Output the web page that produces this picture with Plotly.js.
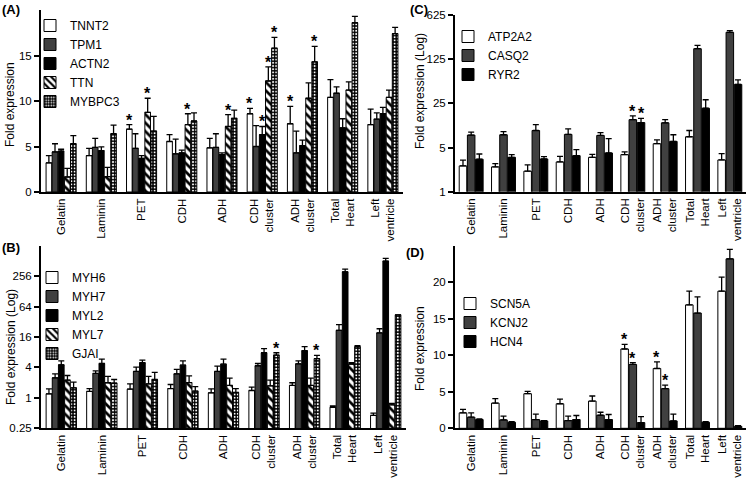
<!DOCTYPE html>
<html>
<head>
<meta charset="utf-8">
<script src="https://cdn.plot.ly/plotly-3.0.1.min.js"></script>
<style>html,body{margin:0;padding:0;background:#fff;}#chart{width:746px;height:478px;}</style>
</head>
<body>
<div id="chart"></div>
<script>
// ---------- DATA ----------
const categories = ['Gelatin','Laminin','PET','CDH','ADH','CDH<br>cluster','ADH<br>cluster','Total<br>Heart','Left<br>ventricle'];

// Panel A (linear)
const TNNT2      = [3.2, 4.0, 6.9, 5.55, 4.85, 8.6, 7.5, 10.4, 7.4];
const TNNT2_err  = [0.8, 0.8, 0.5, 0.75, 1.05, 0.6, 1.9, 1.95, 1.7];
const TNNT2_sig  = [0,0,1,0,0,1,1,0,0];
const TPM1       = [4.4, 4.9, 4.8, 4.2, 4.9, 5.0, 4.3, 10.85, 8.0];
const TPM1_err   = [0.9, 1.0, 1.6, 1.6, 1.5, 2.3, 2.4, 0.7, 0.7];
const TPM1_sig   = [0,0,0,0,0,0,0,0,0];
const ACTN2      = [4.5, 4.55, 3.7, 4.3, 4.1, 6.3, 5.1, 7.05, 8.6];
const ACTN2_err  = [0.2, 0.4, 0.3, 0.3, 0.2, 0.9, 0.6, 1.0, 0.7];
const ACTN2_sig  = [0,0,0,0,0,1,0,0,0];
const TTN        = [1.65, 1.7, 8.75, 7.4, 7.2, 12.2, 10.3, 11.2, 10.4];
const TTN_err    = [0.95, 1.0, 1.55, 1.2, 1.3, 1.55, 1.7, 0.9, 0.8];
const TTN_sig    = [0,0,1,1,1,1,0,0,0];
const MYBPC3     = [5.3, 6.4, 6.7, 7.8, 8.1, 15.8, 14.3, 18.6, 17.4];
const MYBPC3_err = [0.9, 0.95, 1.6, 0.9, 0.9, 1.2, 1.7, 0.7, 0.7];
const MYBPC3_sig = [0,0,0,0,0,1,1,0,0];

// Panel B (log)
const MYH6      = [1.2, 1.34, 1.49, 1.53, 1.26, 1.4, 1.76, 0.65, 0.45];
const MYH6_err  = [0.31, 0.19, 0.4, 0.31, 0.25, 0.23, 0.23, 0.04, 0.05];
const MYH6_sig  = [0,0,0,0,0,0,0,0,0];
const MYH7      = [2.49, 3.04, 3.33, 2.99, 3.33, 4.32, 4.72, 21.7, 19.3];
const MYH7_err  = [0.5, 0.39, 0.73, 0.66, 0.91, 0.47, 0.68, 6.5, 4.0];
const MYH7_sig  = [0,0,0,0,0,0,0,0,0];
const MYL2      = [4.51, 4.79, 4.95, 4.44, 4.65, 7.8, 8.57, 312, 508];
const MYL2_err  = [0.89, 1.06, 0.65, 0.96, 1.2, 1.6, 1.73, 41, 65];
const MYL2_sig  = [0,0,0,0,0,0,0,0,0];
const MYL7      = [2.24, 1.99, 1.89, 2.01, 1.76, 1.73, 1.76, 4.65, 0.73];
const MYL7_err  = [0.53, 0.66, 0.76, 0.72, 0.69, 0.51, 0.69, 0.3, 0.05];
const MYL7_sig  = [0,0,0,0,0,0,0,0,0];
const GJAI      = [1.58, 1.96, 2.31, 1.36, 1.28, 7.03, 5.95, 10.3, 44];
const GJAI_err  = [0.47, 0.35, 0.87, 0.31, 0.25, 0.77, 0.95, 0.5, 0];
const GJAI_sig  = [0,0,0,0,0,1,1,0,0];

// Panel C (log)
const ATP2A2     = [2.56, 2.47, 2.11, 2.96, 3.5, 3.86, 5.75, 7.4, 3.18];
const ATP2A2_err = [0.59, 0.32, 0.55, 0.67, 0.4, 0.4, 0.88, 1.9, 0.82];
const ATP2A2_sig = [0,0,0,0,0,0,0,0,0];
const CASQ2      = [7.87, 7.96, 9.3, 8.07, 7.76, 13.8, 12.3, 183, 333];
const CASQ2_err  = [0.89, 0.94, 2.2, 1.8, 0.84, 2.0, 1.5, 23, 22];
const CASQ2_sig  = [0,0,0,0,0,1,0,0,0];
const RYR2       = [3.26, 3.5, 3.3, 3.72, 4.1, 12.4, 6.25, 20.9, 49.9];
const RYR2_err   = [0.69, 0.36, 0.29, 0.9, 2.8, 2.1, 1.71, 7.6, 8.8];
const RYR2_sig   = [0,0,0,0,0,1,0,0,0];

// Panel D (linear)
const SCN5A      = [2.12, 3.45, 4.74, 3.36, 3.73, 10.86, 8.19, 16.9, 18.77];
const SCN5A_err  = [0.46, 0.6, 0.32, 0.64, 0.69, 0.64, 0.91, 1.87, 1.93];
const SCN5A_sig  = [0,0,0,0,0,1,1,0,0];
const KCNJ2      = [1.52, 1.15, 1.2, 1.06, 1.79, 8.74, 5.43, 15.78, 23.2];
const KCNJ2_err  = [0.6, 0.51, 0.73, 0.6, 0.41, 0.26, 0.47, 2.22, 1.3];
const KCNJ2_sig  = [0,0,0,0,0,1,1,0,0];
const HCN4       = [1.2, 0.83, 1.01, 1.2, 1.2, 0.78, 1.01, 0.83, 0.28];
const HCN4_err   = [0.09, 0.09, 0.05, 0.55, 0.69, 0.82, 0.92, 0.09, 0.09];
const HCN4_sig   = [0,0,0,0,0,0,0,0,0];

// tick labels
const ticksA = [0, 5, 10, 15];
const ticksB = [0.25, 1, 4, 16, 64, 256];
const ticksC = [1, 5, 25, 125, 625];
const ticksD = [0, 5, 10, 15, 20];

// ---------- STYLE ----------
const FONT = 'Arial, "Liberation Sans", sans-serif';
const BARGAP = 0.24, GROUPGAP = 0.08;
const outline = {color: 'black', width: 1};
const STY = {
  white: {color: 'white', line: outline},
  gray:  {color: '#404040', line: outline},
  black: {color: 'black', line: outline},
  hatch: {color: 'white', line: outline,
          pattern: {shape: '\\', fgcolor: 'black', bgcolor: 'white', fgopacity: 1, size: 6, solidity: 0.45}},
  check: {color: 'black', line: outline,
          pattern: {shape: '.', fgcolor: 'white', bgcolor: 'black', fgopacity: 1, size: 3.2, solidity: 0.3}}
};

const traces = [];
const annotations = [];

function addPanel(series, xa, ya, legendId, isLog) {
  const n = series.length;
  const groupW = 1 - BARGAP;
  const slot = groupW / n;
  series.forEach((s, j) => {
    traces.push({
      type: 'bar', name: s.name, x: categories, y: s.y,
      xaxis: xa, yaxis: ya, legend: legendId,
      marker: STY[s.style],
      error_y: {type: 'data', symmetric: false, array: s.err,
                arrayminus: s.y.map(() => 0), color: 'black', thickness: 1.3, width: 3},
      hoverinfo: 'skip'
    });
    s.sig.forEach((flag, i) => {
      if (!flag) return;
      const top = s.y[i] + s.err[i];
      annotations.push({
        xref: xa, yref: ya,
        x: i - groupW / 2 + (j + 0.5) * slot,
        y: isLog ? Math.log10(top) : top,
        text: '<b>*</b>', showarrow: false, yanchor: 'bottom', yshift: -6,
        font: {size: 16, family: FONT, color: '#000000'}
      });
    });
  });
}

addPanel([
  {name: 'TNNT2', y: TNNT2, err: TNNT2_err, sig: TNNT2_sig, style: 'white'},
  {name: 'TPM1', y: TPM1, err: TPM1_err, sig: TPM1_sig, style: 'gray'},
  {name: 'ACTN2', y: ACTN2, err: ACTN2_err, sig: ACTN2_sig, style: 'black'},
  {name: 'TTN', y: TTN, err: TTN_err, sig: TTN_sig, style: 'hatch'},
  {name: 'MYBPC3', y: MYBPC3, err: MYBPC3_err, sig: MYBPC3_sig, style: 'check'}
], 'x', 'y', 'legend', false);

addPanel([
  {name: 'MYH6', y: MYH6, err: MYH6_err, sig: MYH6_sig, style: 'white'},
  {name: 'MYH7', y: MYH7, err: MYH7_err, sig: MYH7_sig, style: 'gray'},
  {name: 'MYL2', y: MYL2, err: MYL2_err, sig: MYL2_sig, style: 'black'},
  {name: 'MYL7', y: MYL7, err: MYL7_err, sig: MYL7_sig, style: 'hatch'},
  {name: 'GJAI', y: GJAI, err: GJAI_err, sig: GJAI_sig, style: 'check'}
], 'x2', 'y2', 'legend2', true);

addPanel([
  {name: 'ATP2A2', y: ATP2A2, err: ATP2A2_err, sig: ATP2A2_sig, style: 'white'},
  {name: 'CASQ2', y: CASQ2, err: CASQ2_err, sig: CASQ2_sig, style: 'gray'},
  {name: 'RYR2', y: RYR2, err: RYR2_err, sig: RYR2_sig, style: 'black'}
], 'x3', 'y3', 'legend3', true);

addPanel([
  {name: 'SCN5A', y: SCN5A, err: SCN5A_err, sig: SCN5A_sig, style: 'white'},
  {name: 'KCNJ2', y: KCNJ2, err: KCNJ2_err, sig: KCNJ2_sig, style: 'gray'},
  {name: 'HCN4', y: HCN4, err: HCN4_err, sig: HCN4_sig, style: 'black'}
], 'x4', 'y4', 'legend4', false);

// ---------- LAYOUT ----------
const W = 746, H = 478;
const px = v => v / W;
const py = v => 1 - v / H;

function xAxis(d0, d1, anchor) {
  return {domain: [px(d0), px(d1)], anchor: anchor, type: 'category',
          showline: true, linewidth: 2, linecolor: 'black', ticks: '',
          tickangle: -90, tickfont: {size: 11.5, family: FONT, color: 'black'},
          showgrid: false, zeroline: false, fixedrange: true};
}
function yAxis(top, bottom, anchor, opts) {
  return Object.assign({domain: [py(bottom), py(top)], anchor: anchor,
          showline: true, linewidth: 2, linecolor: 'black', ticks: 'outside',
          ticklen: 5, tickwidth: 2, tickcolor: 'black',
          tickfont: {size: 11.5, family: FONT, color: 'black'},
          showgrid: false, zeroline: false, fixedrange: true}, opts);
}
function legendAt(xpx, ypx) {
  return {x: px(xpx), y: py(ypx), xanchor: 'left', yanchor: 'top',
          bgcolor: 'rgba(0,0,0,0)', borderwidth: 0,
          font: {size: 12, family: FONT, color: 'black'}, traceorder: 'normal'};
}
function yTitle(text, xpx, ypx) {
  return {xref: 'paper', yref: 'paper', x: px(xpx), y: py(ypx), text: text,
          textangle: -90, showarrow: false, xanchor: 'center', yanchor: 'middle',
          font: {size: 12, family: FONT, color: 'black'}};
}
function panelLabel(text, xpx, ypx) {
  return {xref: 'paper', yref: 'paper', x: px(xpx), y: py(ypx), text: '<b>' + text + '</b>',
          showarrow: false, xanchor: 'left', yanchor: 'top',
          font: {size: 13, family: FONT, color: 'black'}};
}

annotations.push(yTitle('Fold expression', 10, 105));
annotations.push(yTitle('Fold expression (Log)', 11, 347));
annotations.push(yTitle('Fold expression (Log)', 420, 91));
annotations.push(yTitle('Fold expression', 420, 349));
annotations.push(panelLabel('(A)', 0, 0));
annotations.push(panelLabel('(B)', 0, 238));
annotations.push(panelLabel('(C)', 408, 0));
annotations.push(panelLabel('(D)', 404, 243));

const layout = {
  width: W, height: H,
  margin: {l: 0, r: 0, t: 0, b: 0},
  paper_bgcolor: 'white', plot_bgcolor: 'white',
  font: {family: FONT, color: 'black', size: 12},
  barmode: 'group', bargap: BARGAP, bargroupgap: GROUPGAP,
  showlegend: true,
  xaxis:  xAxis(41, 403, 'y'),
  yaxis:  yAxis(10, 192, 'x', {range: [0, 20], tickvals: ticksA}),
  xaxis2: xAxis(41, 406, 'y2'),
  yaxis2: yAxis(245.7, 428.3, 'x2', {type: 'log', range: [Math.log10(0.25), Math.log10(1024)],
           tickvals: ticksB, ticktext: ticksB.map(String)}),
  xaxis3: xAxis(455, 746, 'y3'),
  yaxis3: yAxis(15, 191.7, 'x3', {type: 'log', range: [0, Math.log10(625)],
           tickvals: ticksC, ticktext: ticksC.map(String)}),
  xaxis4: xAxis(455, 746, 'y4'),
  yaxis4: yAxis(245.7, 428.3, 'x4', {range: [0, 25], tickvals: ticksD}),
  legend:  legendAt(30, 11),
  legend2: legendAt(32, 263),
  legend3: legendAt(448, 22),
  legend4: legendAt(450, 289),
  annotations: annotations
};

Plotly.newPlot('chart', traces, layout, {displayModeBar: false, staticPlot: true});
</script>
</body>
</html>
